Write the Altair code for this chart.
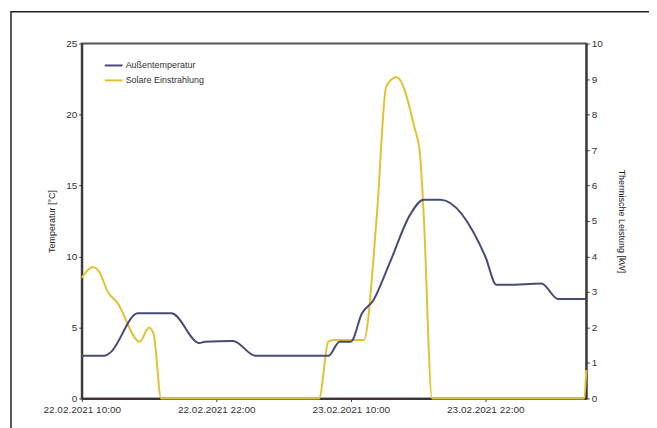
import altair as alt
import pandas as pd

# Außentemperatur (°C), times as ISO strings (UTC)
temp_times = [
    "2021-02-22T10:00", "2021-02-22T12:00", "2021-02-22T12:30", "2021-02-22T15:00",
    "2021-02-22T18:00", "2021-02-22T20:30", "2021-02-22T21:00", "2021-02-22T23:30",
    "2021-02-23T01:30", "2021-02-23T08:00", "2021-02-23T09:00", "2021-02-23T10:00",
    "2021-02-23T11:00", "2021-02-23T12:00", "2021-02-23T13:30", "2021-02-23T15:20",
    "2021-02-23T16:30", "2021-02-23T18:00", "2021-02-23T22:00", "2021-02-23T23:00",
    "2021-02-24T00:00", "2021-02-24T03:00", "2021-02-24T04:30", "2021-02-24T07:00",
]
temp_values = [
    3.0, 3.0, 3.2, 6.0,
    6.0, 3.9, 4.0, 4.05,
    3.0, 3.0, 4.0, 4.0,
    6.0, 6.9, 9.6, 13.0,
    14.0, 14.0, 10.0, 8.0,
    8.0, 8.1, 7.0, 7.0,
]

# Solare Einstrahlung (kW)
solar_times = [
    "2021-02-22T10:00", "2021-02-22T11:00", "2021-02-22T11:30", "2021-02-22T12:20",
    "2021-02-22T13:10", "2021-02-22T15:10", "2021-02-22T16:00", "2021-02-22T16:25",
    "2021-02-22T17:05", "2021-02-23T07:10", "2021-02-23T08:00", "2021-02-23T08:30",
    "2021-02-23T11:10", "2021-02-23T12:20", "2021-02-23T13:10", "2021-02-23T14:05",
    "2021-02-23T15:40", "2021-02-23T16:10", "2021-02-23T16:30", "2021-02-23T17:15",
    "2021-02-24T06:50", "2021-02-24T07:00",
]
solar_values = [
    3.4, 3.7, 3.6, 3.0,
    2.7, 1.6, 2.0, 1.8,
    0.0, 0.0, 1.6, 1.65,
    1.65, 5.2, 8.8, 9.05,
    7.65, 6.9, 5.2, 0.0,
    0.0, 0.8,
]

tick_times = ["2021-02-22T10:00", "2021-02-22T22:00", "2021-02-23T10:00", "2021-02-23T22:00"]
x_domain = ["2021-02-22T10:00", "2021-02-24T07:00"]
series_names = ["Außentemperatur", "Solare Einstrahlung"]
series_colors = ["#474b78", "#e2c234"]

def to_ms(s):
    return int(pd.Timestamp(s, tz="UTC").value // 10**6)

temp_df = pd.DataFrame({"t": [to_ms(s) for s in temp_times], "v": temp_values, "s": series_names[0]})
solar_df = pd.DataFrame({"t": [to_ms(s) for s in solar_times], "v": solar_values, "s": series_names[1]})

FONT = "Liberation Sans"
AX = "#3d3535"

xscale = alt.Scale(type="utc", domain=[to_ms(d) for d in x_domain], nice=False)
xaxis = alt.Axis(
    values=[to_ms(t) for t in tick_times],
    labelExpr="utcFormat(datum.value, '%d.%m.%Y %H:%M')",
    title=None, grid=False, tickSize=3, labelFontSize=10, labelPadding=3,
    domainColor=AX, domainWidth=2, tickColor=AX, labelColor="#333333", labelFlush=False,
)
color = alt.Color("s:N", scale=alt.Scale(domain=series_names, range=series_colors),
                  legend=alt.Legend(title=None, orient="none", legendX=22, legendY=12,
                                    symbolType="stroke", symbolSize=320, symbolStrokeWidth=2,
                                    labelFontSize=9, rowPadding=0, labelOffset=2,
                                    labelColor="#333333"))

temp_line = alt.Chart(temp_df).mark_line(strokeWidth=2, interpolate="monotone").encode(
    x=alt.X("t:T", scale=xscale, axis=xaxis),
    y=alt.Y("v:Q", scale=alt.Scale(domain=[0, 25], nice=False),
            axis=alt.Axis(title="Temperatur [°C]", values=[0, 5, 10, 15, 20, 25], grid=False,
                          tickSize=3, labelFontSize=10, titleFontSize=9, titleFontWeight="normal",
                          titlePadding=9, domainColor=AX, domainWidth=2, tickColor=AX,
                          labelColor="#333333", titleColor="#222222")),
    color=color,
)

solar_line = alt.Chart(solar_df).mark_line(strokeWidth=2, interpolate="monotone").encode(
    x=alt.X("t:T", scale=xscale, axis=xaxis),
    y=alt.Y("v:Q", scale=alt.Scale(domain=[0, 10], nice=False),
            axis=alt.Axis(orient="right", title="Thermische Leistung [kW]",
                          values=list(range(0, 11)), grid=False, tickSize=3, labelFontSize=10,
                          titleFontSize=9, titleFontWeight="normal", titlePadding=14,
                          domainColor=AX, domainWidth=2, tickColor=AX,
                          labelColor="#333333", titleColor="#222222")),
    color=color,
)

frame = alt.Chart(pd.DataFrame({"a": [0]})).mark_rect(
    fill=None, stroke="#222222", strokeWidth=1.5
).encode(x=alt.value(-71), x2=alt.value(570), y=alt.value(-32), y2=alt.value(400))

chart = alt.layer(frame, solar_line, temp_line).resolve_scale(y="independent").properties(
    width=506, height=356,
    autosize=alt.AutoSizeParams(type="none"),
    padding={"left": 74, "top": 35, "right": 63, "bottom": 29},
).configure(font=FONT).configure_view(stroke="#555555", strokeWidth=2)

chart.save("out.html", embed_options={"renderer": "svg", "actions": False})
